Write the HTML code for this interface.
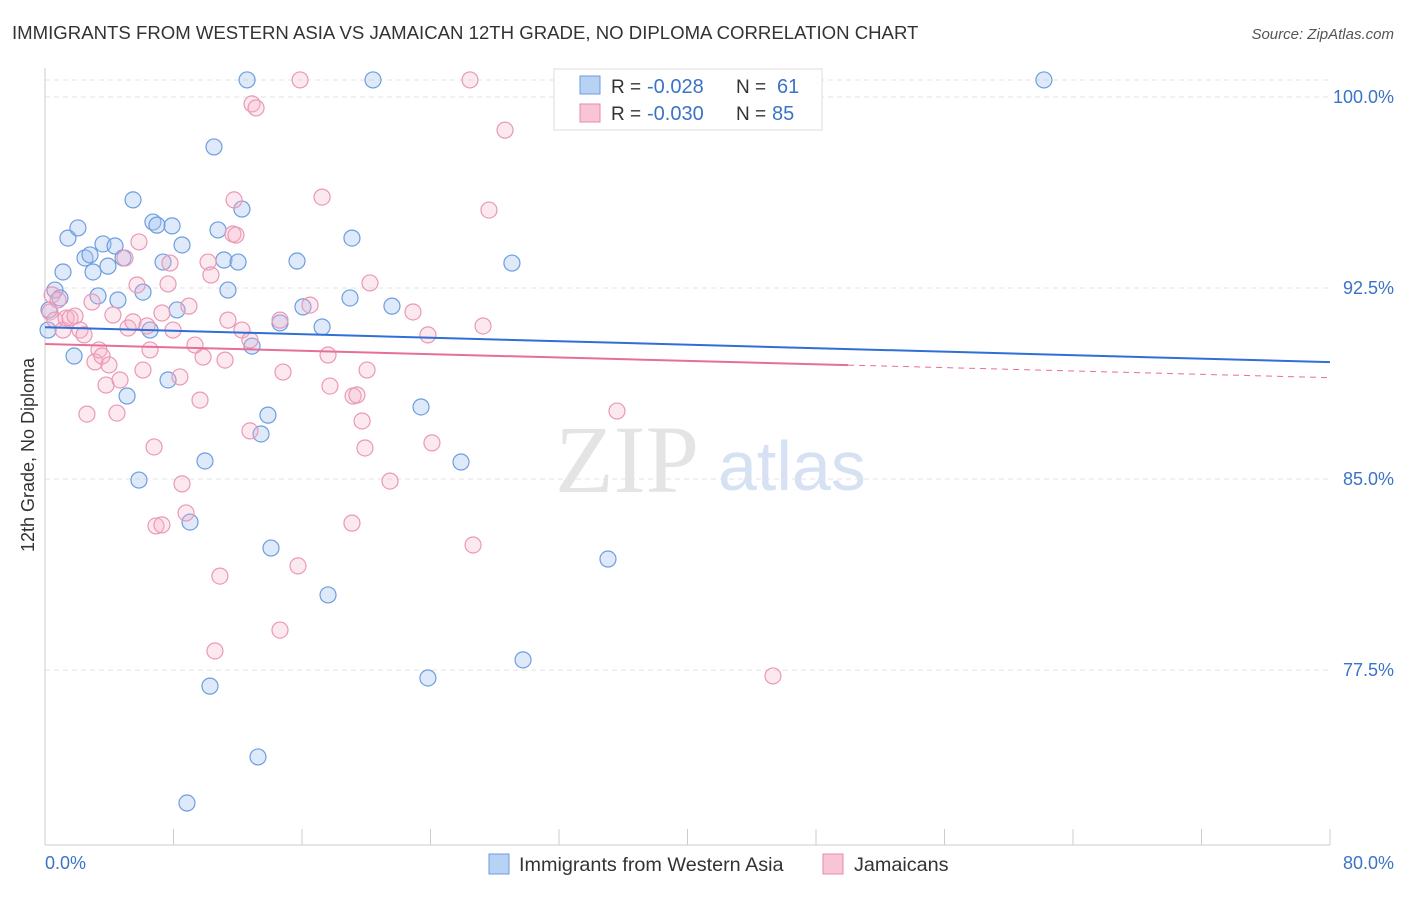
<!DOCTYPE html>
<html><head><meta charset="utf-8"><style>
body{margin:0;background:#fff;font-family:"Liberation Sans",sans-serif;}
</style></head><body>
<svg width="1406" height="892" xmlns="http://www.w3.org/2000/svg">
<text x="12" y="39" font-size="18.6" fill="#333">IMMIGRANTS FROM WESTERN ASIA VS JAMAICAN 12TH GRADE, NO DIPLOMA CORRELATION CHART</text>
<text x="1394" y="39" font-size="15" fill="#555" font-style="italic" text-anchor="end">Source: ZipAtlas.com</text>
<text x="555" y="492" font-size="96" fill="#e4e4e4" font-family="Liberation Serif,serif">ZIP</text>
<text x="718" y="490" font-size="70" fill="#d6e2f3">atlas</text>
<g id="grid"></g>
<line x1="45" y1="845" x2="1330" y2="845" stroke="#ccc"/>
<line x1="45" y1="68" x2="45" y2="845" stroke="#ccc"/>
<text transform="translate(34,455) rotate(-90)" font-size="18" fill="#333" text-anchor="middle">12th Grade, No Diploma</text>
<text x="45" y="869" font-size="18" fill="#3b73c8">0.0%</text>
<text x="1394" y="869" font-size="18" fill="#3b73c8" text-anchor="end">80.0%</text>
<g id="pts"></g>
<g id="trends"></g>
<g>
<rect x="554" y="69" width="268" height="61" fill="#fff" stroke="#ddd"/>
<rect x="580" y="76" width="20" height="18" fill="#b7d2f3" stroke="#6a9be0"/>
<text x="611" y="93" font-size="19" fill="#333">R =</text>
<text x="647" y="93" font-size="20" fill="#3b73c8">-0.028</text>
<text x="736" y="93" font-size="19" fill="#333">N =</text>
<text x="777" y="93" font-size="20" fill="#3b73c8">61</text>
<rect x="580" y="104" width="20" height="18" fill="#f8c5d6" stroke="#e58aa9"/>
<text x="611" y="120" font-size="19" fill="#333">R =</text>
<text x="647" y="120" font-size="20" fill="#3b73c8">-0.030</text>
<text x="736" y="120" font-size="19" fill="#333">N =</text>
<text x="772" y="120" font-size="20" fill="#3b73c8">85</text>
</g>
<g>
<rect x="489" y="854" width="20" height="20" fill="#b7d2f3" stroke="#6a9be0"/>
<text x="519" y="871" font-size="19.8" fill="#333">Immigrants from Western Asia</text>
<rect x="823" y="854" width="20" height="20" fill="#f8c5d6" stroke="#e58aa9"/>
<text x="854" y="871" font-size="19.8" fill="#333">Jamaicans</text>
</g>
</svg>
<script>
const yTicks=[100,92.5,85,77.5];
const xTicks=[0,8,16,24,32,40,48,56,64,72,80];
const bluePx=[[48,330],[55,290],[60,298],[63,272],[68,238],[74,356],[78,228],[85,258],[90,255],[93,272],[98,296],[103,244],[108,266],[115,246],[118,300],[123,258],[127,396],[133,200],[139,480],[143,292],[150,330],[153,222],[157,225],[163,262],[168,380],[172,226],[177,310],[182,245],[190,522],[205,461],[210,686],[214,147],[218,230],[224,260],[228,290],[238,262],[242,209],[247,80],[252,346],[258,757],[261,434],[268,415],[271,548],[280,323],[297,261],[303,307],[322,327],[328,595],[350,298],[352,238],[373,80],[392,306],[421,407],[428,678],[461,462],[512,263],[523,660],[608,559],[1044,80],[187,803],[49,310]];
const pinkPx=[[50,312],[52,295],[55,320],[58,300],[63,330],[66,318],[70,318],[75,316],[80,330],[84,335],[87,414],[92,302],[95,362],[99,350],[102,356],[106,385],[109,365],[113,315],[117,413],[120,380],[125,258],[128,328],[133,322],[137,285],[139,242],[143,370],[147,326],[150,350],[154,447],[156,526],[162,525],[162,313],[168,284],[170,263],[173,330],[180,377],[182,484],[186,513],[189,306],[195,345],[200,400],[203,357],[208,262],[211,275],[215,651],[220,576],[225,360],[228,320],[233,234],[236,235],[234,200],[242,330],[250,431],[252,104],[256,108],[250,340],[280,630],[283,372],[280,320],[298,566],[300,80],[310,305],[322,197],[328,355],[330,386],[352,523],[353,396],[357,395],[362,421],[365,448],[367,370],[370,283],[390,481],[413,312],[428,335],[432,443],[470,80],[473,545],[483,326],[489,210],[505,130],[617,411],[773,676],[755,80]];
const toX=p=>(p-45)/1285*80, toY=p=>100-(p-97)/25.47;
const blueX=bluePx.map(p=>+toX(p[0]).toFixed(2)), blueY=bluePx.map(p=>+toY(p[1]).toFixed(2));
const pinkX=pinkPx.map(p=>+toX(p[0]).toFixed(2)), pinkY=pinkPx.map(p=>+toY(p[1]).toFixed(2));
const blueTrend=[90.96,89.59];
const pinkTrend=[90.30,88.98];
const sx=v=>45+v/80*1285, sy=v=>97+(100-v)*25.47;
const NS="http://www.w3.org/2000/svg";
function mk(t,a,parent){const e=document.createElementNS(NS,t);for(const k in a)e.setAttribute(k,a[k]);document.getElementById(parent).appendChild(e);return e;}
yTicks.forEach(v=>{
 const l=mk('line',{x1:45,x2:1330,y1:sy(v),y2:sy(v),stroke:'#e3e3e3','stroke-dasharray':'5,4'},'grid');
 
 
 const t=mk('text',{x:1394,y:sy(v)+6,'font-size':18,fill:'#3b73c8','text-anchor':'end'},'grid');
 t.textContent=v.toFixed(1)+'%';
 
 
});
const topLine=mk('line',{x1:45,x2:1330,y1:80,y2:80,stroke:'#e3e3e3','stroke-dasharray':'5,4'},'grid');


xTicks.forEach(v=>{
 const l=mk('line',{x1:sx(v),x2:sx(v),y1:829,y2:845,stroke:'#ccc'},'grid');
 
 
});
blueX.forEach((x,i)=>{
 const c=mk('circle',{cx:sx(x),cy:sy(blueY[i]),r:8,fill:'rgba(160,196,240,0.35)',stroke:'#6d9de0','stroke-width':1.2},'pts');
 
 
});
pinkX.forEach((x,i)=>{
 const c=mk('circle',{cx:sx(x),cy:sy(pinkY[i]),r:8,fill:'rgba(246,178,202,0.3)',stroke:'#eb98b5','stroke-width':1.2},'pts');
 
 
});
const bl=mk('line',{x1:sx(0),y1:sy(blueTrend[0]),x2:sx(80),y2:sy(blueTrend[1]),stroke:'#2f6fd6','stroke-width':2},'trends');


const pm=v=>pinkTrend[0]+(pinkTrend[1]-pinkTrend[0])*v/80;
const pl=mk('line',{x1:sx(0),y1:sy(pm(0)),x2:sx(50),y2:sy(pm(50)),stroke:'#e66f98','stroke-width':2},'trends');


const pd=mk('line',{x1:sx(50),y1:sy(pm(50)),x2:sx(80),y2:sy(pm(80)),stroke:'#e66f98','stroke-width':1,'stroke-dasharray':'6,5'},'trends');


</script>
</body></html>
